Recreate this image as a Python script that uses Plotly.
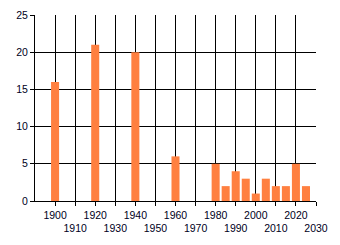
import plotly.graph_objects as go

years = [1900, 1920, 1940, 1960, 1980, 1985, 1990, 1995, 2000, 2005, 2010, 2015, 2020, 2025]
counts = [16, 21, 20, 6, 5, 2, 4, 3, 1, 3, 2, 2, 5, 2]
x_ticks = list(range(1900, 2031, 10))
y_ticks = [0, 5, 10, 15, 20, 25]

x_text = [str(t) if i % 2 == 0 else "<br>" + str(t) for i, t in enumerate(x_ticks)]

fig = go.Figure(go.Bar(x=years, y=counts, width=4, marker=dict(color="#FF8040", line=dict(width=0))))

fig.update_layout(
    width=340, height=245,
    margin=dict(l=35, r=24, t=15, b=44, autoexpand=False),
    paper_bgcolor="white", plot_bgcolor="white",
    showlegend=False,
    font=dict(family="Liberation Sans, Arial, sans-serif", size=10.5, color="#000022"),
)
fig.update_xaxes(
    range=[1890, 2030], tickvals=x_ticks, ticktext=x_text, tickangle=0,
    showgrid=True, gridcolor="black", gridwidth=1,
    showline=True, linecolor="black", linewidth=1,
    ticks="outside", ticklen=4, tickcolor="black",
    zeroline=False, fixedrange=True, automargin=False,
)
fig.update_yaxes(
    range=[0, 25], tickvals=y_ticks,
    showgrid=True, gridcolor="black", gridwidth=1,
    showline=True, linecolor="black", linewidth=1,
    ticks="outside", ticklen=4, tickcolor="black",
    zeroline=False, fixedrange=True, automargin=False,
)
fig.write_html("out.html")
